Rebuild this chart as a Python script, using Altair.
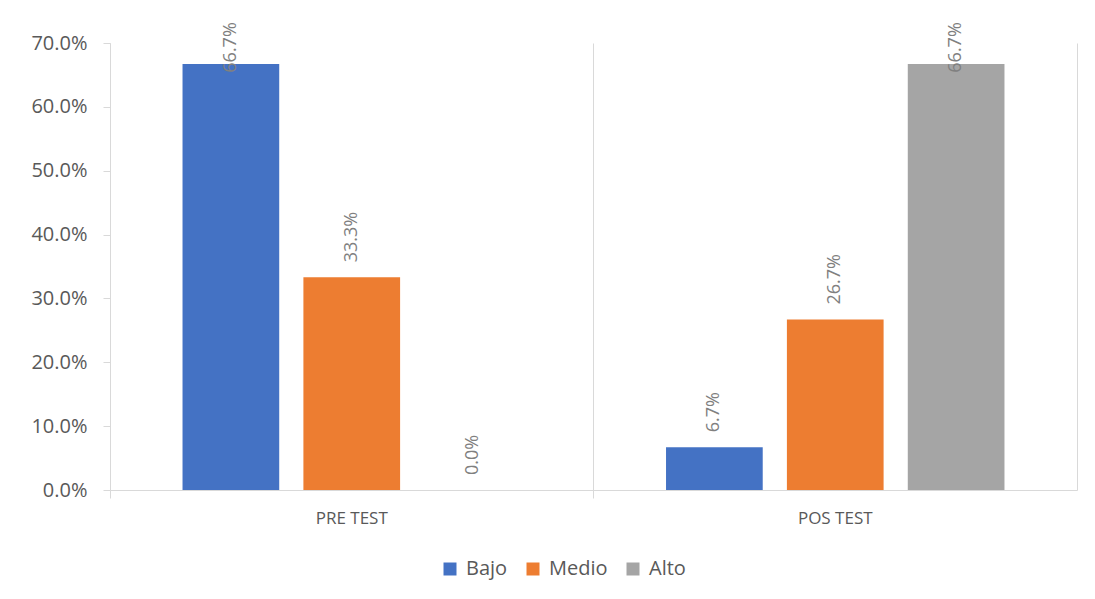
import altair as alt
import pandas as pd

groups = ["PRE TEST", "POS TEST"]
series = ["Bajo", "Medio", "Alto"]
pre_values = [0.667, 0.333, 0.0]
pos_values = [0.067, 0.267, 0.667]
colors = ["#4472C4", "#ED7D31", "#A5A5A5"]
y_ticks = [0.0, 0.1, 0.2, 0.3, 0.4, 0.5, 0.6, 0.7]
LABEL_CAP = 0.63  # Excel pulls the tallest labels down to stay inside the chart

rows = []
for g, vals in zip(groups, [pre_values, pos_values]):
    for s, v in zip(series, vals):
        rows.append({"group": g, "series": s, "value": v})
df = pd.DataFrame(rows)

GREY = "#D9D9D9"
TXT = "#595959"
FONT = "Open Sans"

x_axis = alt.Axis(
    title=None, bandPosition=0, grid=True, gridColor=GREY, tickColor=GREY,
    tickSize=8, domainColor=GREY, labelAngle=0,
    labelFontSize=17, labelColor=TXT, labelPadding=12, labelFont=FONT,
)
x_enc = alt.X("group:N", sort=groups,
              scale=alt.Scale(paddingInner=0, paddingOuter=0), axis=x_axis)
xoff = alt.XOffset("series:N", sort=series,
                   scale=alt.Scale(paddingInner=0.2, paddingOuter=0.6))
y_scale = alt.Scale(domain=[0, 0.7])

bars = alt.Chart(df).mark_bar().encode(
    x=x_enc,
    xOffset=xoff,
    y=alt.Y("value:Q", scale=y_scale, axis=alt.Axis(
        title=None, values=y_ticks, format=".1%", grid=False,
        domainColor=GREY, tickColor=GREY, tickSize=7, labelPadding=16,
        labelFontSize=20, labelColor=TXT, labelFont=FONT)),
    color=alt.Color("series:N", sort=series,
                    scale=alt.Scale(domain=series, range=colors),
                    legend=alt.Legend(
                        title=None, orient="none", legendX=330, legendY=516,
                        direction="horizontal",
                        symbolType="square", symbolSize=169, symbolStrokeWidth=0,
                        labelFontSize=20, labelColor=TXT, labelFont=FONT,
                        columnPadding=15, labelOffset=6)),
)

text = alt.Chart(df).transform_calculate(
    label_pos=f"min(datum.value, {LABEL_CAP})"
).mark_text(
    angle=270, align="left", baseline="middle", dx=15,
    font=FONT, fontSize=18, color="#808080",
).encode(
    x=x_enc,
    xOffset=xoff,
    y=alt.Y("label_pos:Q", scale=y_scale, axis=alt.Axis(
        orient="right", labels=False, ticks=False, grid=False, title=None,
        domainColor=GREY)),
    text=alt.Text("value:Q", format=".1%"),
)

chart = alt.layer(bars, text).resolve_axis(y="independent").properties(
    width=967, height=447,
    padding={"left": 102, "top": 35, "right": 10, "bottom": 90},
    autosize=alt.AutoSizeParams(type="none"),
).configure_view(stroke=None)

chart.save("out.html", embed_options={"renderer": "svg", "actions": False})
